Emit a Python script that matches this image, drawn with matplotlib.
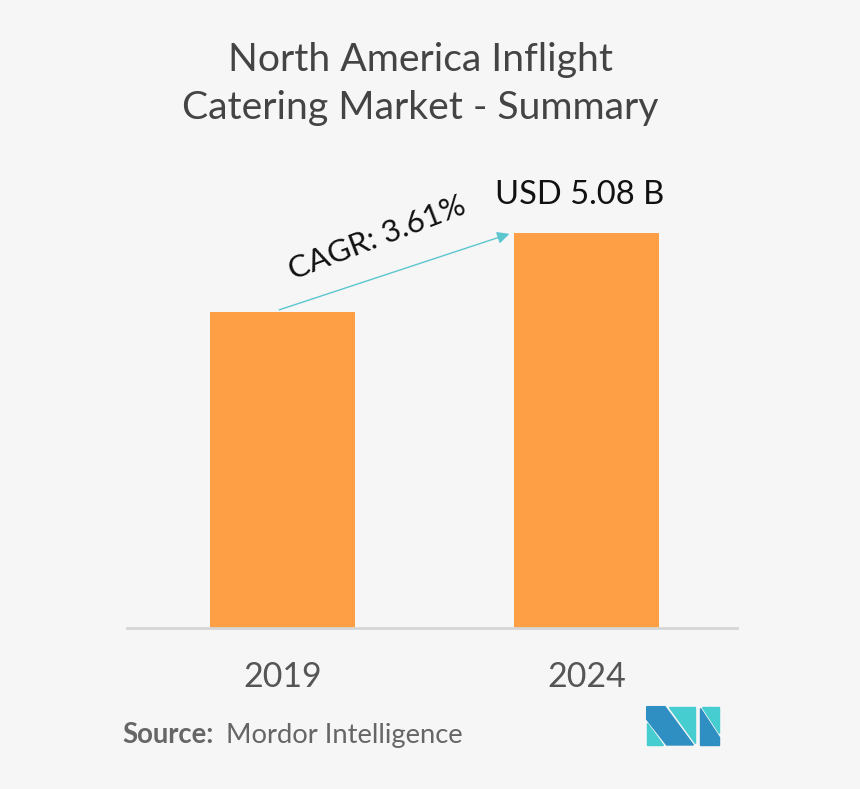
import matplotlib.pyplot as plt
from matplotlib.patches import Polygon

years = ['2019', '2024']
values = [4.06, 5.08]
value_label = 'USD 5.08 B'
cagr_label = 'CAGR: 3.61%'

bg = '#f6f6f6'
orange = '#fe9f45'
teal = '#5cc6cf'
dark_blue = '#2f8fc2'
cyan = '#45cdd0'

plt.rcParams['font.family'] = ['Lato', 'DejaVu Sans']

fig = plt.figure(figsize=(8.6, 7.89), dpi=100, facecolor=bg)
W, H = 860, 789
ax = fig.add_axes([127 / W, 161 / H, 610 / W, 395 / H])
ax.set_facecolor(bg)

x = range(len(years))
ax.bar(x, values, width=0.476, color=orange, zorder=2)
ax.set_xlim(-0.511, 1.493)
ax.set_ylim(0, values[1])

for s in ['top', 'right', 'left']:
    ax.spines[s].set_visible(False)
ax.spines['bottom'].set_color('#d6d6d6')
ax.spines['bottom'].set_linewidth(2)
ax.set_yticks([])
ax.set_xticks(list(x))
ax.set_xticklabels(years, fontsize=24.5, color='#555555')
ax.tick_params(axis='x', length=0, pad=24)

# value label above second bar
ax.text(0.975, values[1] + 0.3, value_label, ha='center', va='bottom',
        fontsize=23.5, color='#111111', clip_on=False)

# CAGR arrow
ax.annotate('', xy=(1 - 0.246, values[1]), xytext=(-0.02, values[0] + 0.02),
            arrowprops=dict(arrowstyle='-|>', color=teal, lw=1, mutation_scale=18),
            annotation_clip=False)
ax.text(0.31, values[0] + 0.95, cagr_label, rotation=21, ha='center', va='center',
        fontsize=22.5, color='#111111', rotation_mode='anchor', clip_on=False)

# title
fig.text(420 / W, 1 - 84 / H, 'North America Inflight\nCatering Market - Summary',
         ha='center', va='center', fontsize=28.2, color='#444444', linespacing=1.42)

# source
fig.text(122 / W, 1 - 735 / H, 'Source:', fontsize=19.8, color='#666666',
         fontweight='bold', va='center')
fig.text(226 / W, 1 - 735 / H, 'Mordor Intelligence', fontsize=19.7, color='#666666',
         va='center')

# logo
def pts(coords):
    return [((630 + cx / 3) / W, 1 - (690 + cy / 3) / H) for cx, cy in coords]

logo = [
    ([(50, 50), (105, 50), (190, 165), (110, 165), (50, 88)], dark_blue),
    ([(50, 98), (50, 165), (100, 165)], cyan),
    ([(116, 50), (196, 50), (196, 158)], cyan),
    ([(210, 55), (210, 165), (268, 165), (268, 140)], dark_blue),
    ([(216, 50), (268, 50), (268, 128)], cyan),
]
for coords, c in logo:
    fig.patches.append(Polygon(pts(coords), closed=True, color=c,
                               transform=fig.transFigure, figure=fig))

fig.savefig('out.png', dpi=100, facecolor=bg)
